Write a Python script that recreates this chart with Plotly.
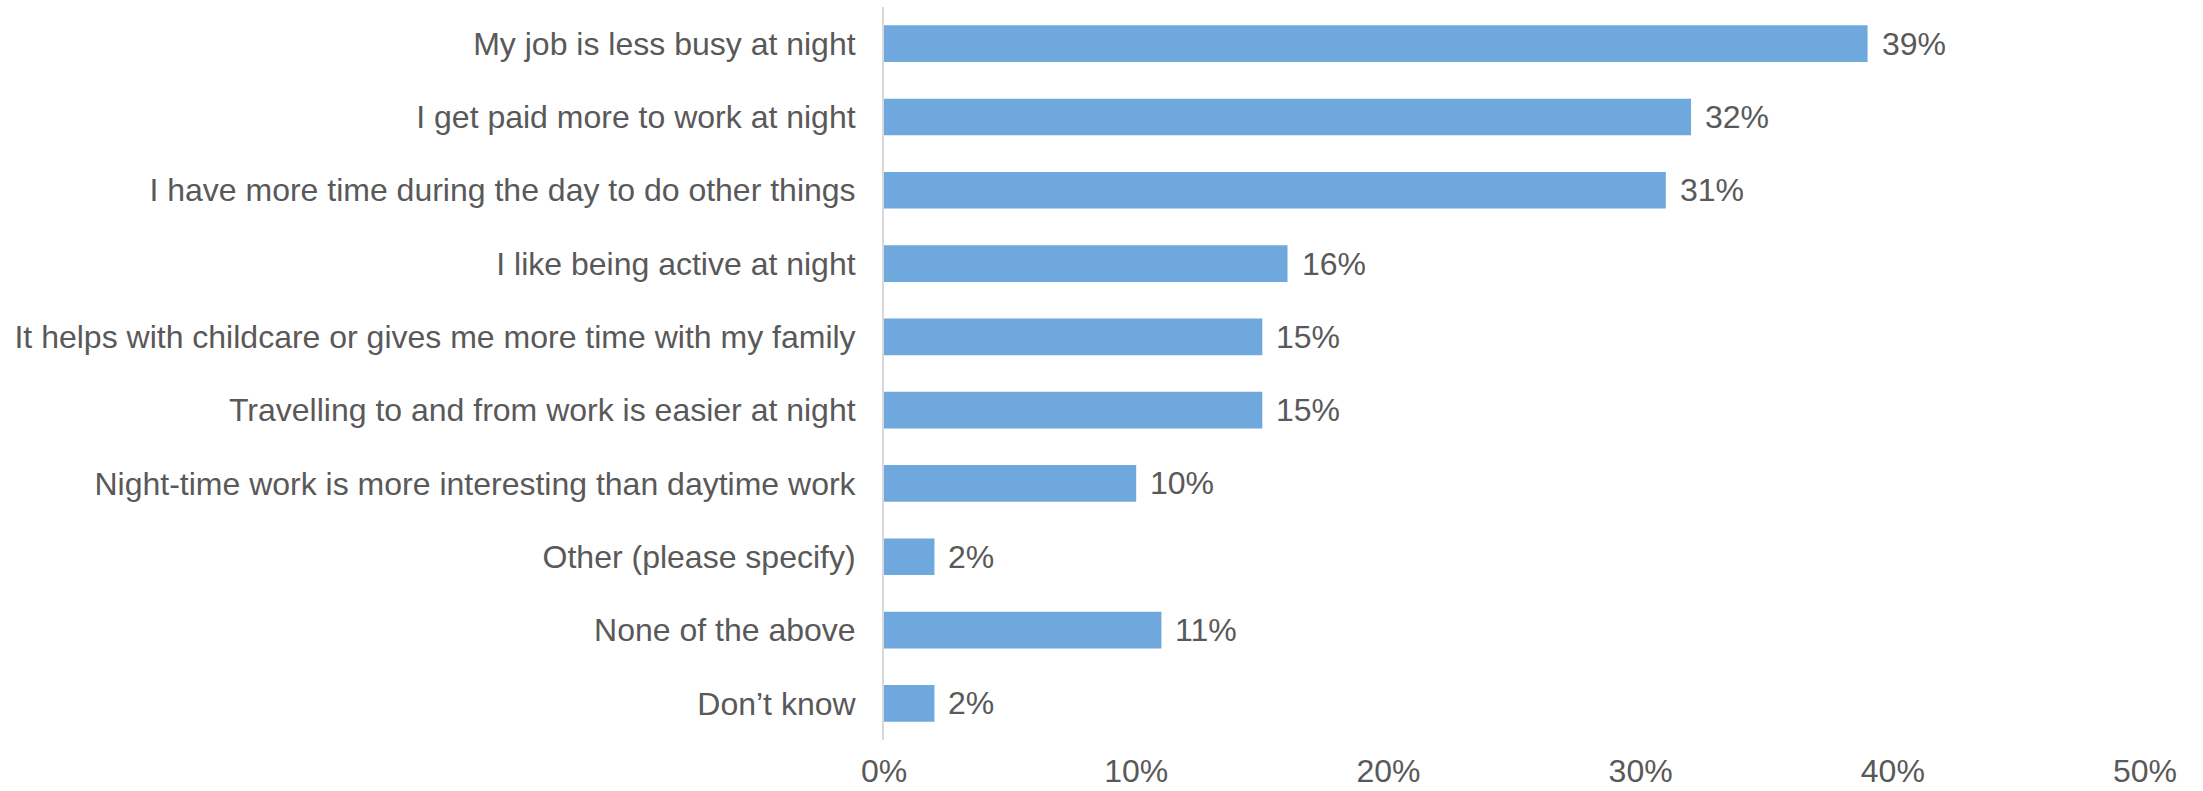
import plotly.graph_objects as go

# Reasons given for working at night (share of respondents, %)
categories = [
    "My job is less busy at night",
    "I get paid more to work at night",
    "I have more time during the day to do other things",
    "I like being active at night",
    "It helps with childcare or gives me more time with my family",
    "Travelling to and from work is easier at night",
    "Night-time work is more interesting than daytime work",
    "Other (please specify)",
    "None of the above",
    "Don\u2019t know",
]
values = [39, 32, 31, 16, 15, 15, 10, 2, 11, 2]
x_ticks = [0, 10, 20, 30, 40, 50]
x_tick_labels = ["0%", "10%", "20%", "30%", "40%", "50%"]

BAR_COLOR = "#6FA8DC"
TEXT_COLOR = "#595959"
FONT = "Liberation Sans, Arial, sans-serif"
FONT_SIZE = 32

fig = go.Figure(
    go.Bar(
        x=values,
        y=categories,
        orientation="h",
        marker=dict(color=BAR_COLOR, line=dict(width=0)),
        width=0.5,
        hoverinfo="skip",
    )
)

# value labels just past the end of each bar
for cat, val in zip(categories, values):
    fig.add_annotation(
        x=val,
        y=cat,
        text=f"{val}%",
        showarrow=False,
        xanchor="left",
        yanchor="middle",
        xshift=12,
        font=dict(family=FONT, size=FONT_SIZE, color=TEXT_COLOR),
    )

fig.update_layout(
    width=2203,
    height=791,
    margin=dict(l=884, r=58, t=7, b=51, autoexpand=False),
    paper_bgcolor="white",
    plot_bgcolor="white",
    showlegend=False,
    font=dict(family=FONT, size=FONT_SIZE, color=TEXT_COLOR),
    xaxis=dict(
        range=[0, 50],
        tickvals=x_ticks,
        ticktext=x_tick_labels,
        showgrid=False,
        zeroline=False,
        showline=False,
        ticks="",
        ticklabelstandoff=9,
        automargin=False,
        tickfont=dict(family=FONT, size=FONT_SIZE, color=TEXT_COLOR),
    ),
    yaxis=dict(
        autorange="reversed",
        showgrid=False,
        zeroline=False,
        showline=True,
        linecolor="#D9D9D9",
        linewidth=2,
        ticks="",
        ticklabelstandoff=20,
        automargin=False,
        tickfont=dict(family=FONT, size=FONT_SIZE, color=TEXT_COLOR),
    ),
)

fig.write_html("out.html")
